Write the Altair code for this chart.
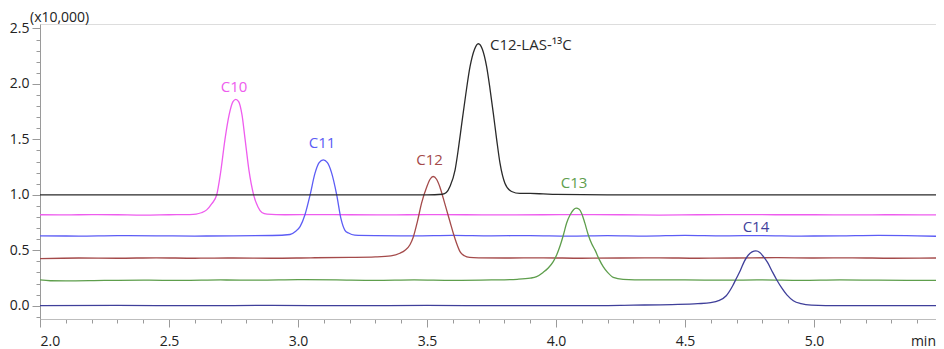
import altair as alt
import pandas as pd

# ---- data ----
series_names = ["C10", "C11", "C12", "C13", "C14", "C12-LAS-13C"]
series_colors = ["#ee5cee", "#5c5cf5", "#a44a4a", "#5e9e4c", "#3f3f9a", "#2a2a2a"]

c10_t = [2.0, 2.1, 2.2, 2.3, 2.4, 2.5, 2.58, 2.605, 2.625, 2.646, 2.666, 2.685, 2.70, 2.717, 2.733, 2.748,
         2.759, 2.77, 2.783, 2.795, 2.81, 2.828, 2.845, 2.86, 2.88, 2.95, 3.05, 3.2, 3.35, 3.5, 3.65, 3.8,
         3.95, 4.1, 4.25, 4.4, 4.55, 4.7, 4.85, 5.0, 5.15, 5.3, 5.473]
c10_v = [0.82, 0.818, 0.822, 0.82, 0.817, 0.82, 0.822, 0.826, 0.838, 0.864, 0.92, 1.0, 1.2, 1.5, 1.72, 1.84,
         1.86, 1.84, 1.72, 1.5, 1.22, 1.0, 0.89, 0.84, 0.825, 0.82, 0.822, 0.82, 0.818, 0.822, 0.82, 0.818,
         0.82, 0.822, 0.82, 0.817, 0.82, 0.822, 0.82, 0.82, 0.818, 0.82, 0.818]

c11_t = [2.0, 2.15, 2.3, 2.45, 2.6, 2.75, 2.9, 2.969, 2.99, 3.008, 3.027, 3.047, 3.066, 3.082, 3.098, 3.114,
         3.13, 3.15, 3.167, 3.182, 3.196, 3.22, 3.3, 3.45, 3.6, 3.75, 3.9, 4.05, 4.2, 4.35, 4.5, 4.65, 4.8,
         4.95, 5.1, 5.25, 5.4, 5.473]
c11_v = [0.63, 0.628, 0.632, 0.63, 0.628, 0.63, 0.633, 0.642, 0.67, 0.713, 0.82, 1.0, 1.195, 1.29, 1.315, 1.29,
         1.2, 1.0, 0.78, 0.68, 0.655, 0.636, 0.632, 0.63, 0.634, 0.63, 0.632, 0.628, 0.632, 0.628, 0.634, 0.63,
         0.632, 0.628, 0.63, 0.634, 0.63, 0.626]

c12_t = [2.0, 2.15, 2.3, 2.45, 2.6, 2.75, 2.9, 3.05, 3.2, 3.3, 3.36, 3.395, 3.415, 3.434, 3.447, 3.463, 3.479,
         3.499, 3.512, 3.524, 3.537, 3.55, 3.563, 3.576, 3.59, 3.602, 3.615, 3.628, 3.645, 3.665, 3.7, 3.8,
         3.95, 4.1, 4.25, 4.4, 4.55, 4.7, 4.85, 5.0, 5.15, 5.3, 5.473]
c12_v = [0.425, 0.43, 0.428, 0.432, 0.428, 0.43, 0.428, 0.432, 0.435, 0.44, 0.45, 0.473, 0.5, 0.55, 0.62, 0.76,
         0.925, 1.07, 1.14, 1.165, 1.14, 1.07, 0.97, 0.864, 0.75, 0.653, 0.56, 0.487, 0.45, 0.435, 0.432, 0.43,
         0.432, 0.428, 0.43, 0.432, 0.428, 0.43, 0.433, 0.43, 0.432, 0.428, 0.43]

c13_t = [2.0, 2.04, 2.1, 2.25, 2.4, 2.55, 2.7, 2.85, 3.0, 3.15, 3.3, 3.45, 3.6, 3.75, 3.85, 3.9, 3.925, 3.95,
         3.97, 3.99, 4.003, 4.016, 4.029, 4.041, 4.055, 4.068, 4.078, 4.09, 4.1, 4.112, 4.125, 4.138, 4.151,
         4.167, 4.183, 4.2, 4.222, 4.26, 4.35, 4.5, 4.65, 4.8, 4.95, 5.1, 5.25, 5.4, 5.473]
c13_v = [0.232, 0.225, 0.224, 0.228, 0.23, 0.228, 0.232, 0.23, 0.235, 0.232, 0.228, 0.232, 0.228, 0.232, 0.238,
         0.248, 0.262, 0.3, 0.34, 0.4, 0.46, 0.54, 0.64, 0.744, 0.82, 0.865, 0.879, 0.87, 0.83, 0.744, 0.64,
         0.56, 0.503, 0.42, 0.352, 0.3, 0.256, 0.238, 0.232, 0.232, 0.23, 0.232, 0.228, 0.232, 0.23, 0.228, 0.228]

c14_t = [2.0, 2.3, 2.6, 2.9, 3.2, 3.5, 3.8, 4.1, 4.3, 4.45, 4.55, 4.6, 4.63, 4.66, 4.685, 4.70, 4.715, 4.73,
         4.745, 4.76, 4.775, 4.79, 4.805, 4.82, 4.84, 4.856, 4.875, 4.895, 4.92, 4.95, 4.99, 5.1, 5.3, 5.473]
c14_v = [0.0, 0.002, 0.0, 0.003, 0.0, 0.002, 0.0, 0.0, 0.005, 0.01, 0.018, 0.028, 0.045, 0.09, 0.18, 0.25, 0.32,
         0.4, 0.455, 0.485, 0.494, 0.48, 0.44, 0.39, 0.3, 0.232, 0.16, 0.097, 0.045, 0.018, 0.005, 0.0, 0.0, 0.0]

las_t = [2.0, 3.0, 3.5, 3.56, 3.575, 3.589, 3.609, 3.622, 3.635, 3.65, 3.667, 3.684, 3.699, 3.715, 3.731,
         3.744, 3.757, 3.77, 3.783, 3.802, 3.828, 3.86, 3.9, 3.95, 4.0, 4.2, 4.6, 5.0, 5.473]
las_v = [1.0, 1.0, 1.0, 1.005, 1.02, 1.075, 1.225, 1.42, 1.646, 1.9, 2.157, 2.31, 2.362, 2.31, 2.157,
         1.96, 1.737, 1.5, 1.285, 1.105, 1.03, 1.012, 1.012, 1.008, 1.003, 1.0, 1.0, 1.0, 1.0]

# peak labels
label_text = ["C10", "C11", "C12", "C13", "C14"]
label_t = [2.752, 3.093, 3.51, 4.07, 4.775]
label_v = [1.974, 1.468, 1.315, 1.107, 0.71]
las_label = "C12-LAS-\u00b9\u00b3C"
las_label_t = 3.744
las_label_v = 2.353

x_major = [2.0, 2.5, 3.0, 3.5, 4.0, 4.5, 5.0]
x_minor = [round(2.0 + 0.1 * i, 1) for i in range(35)]
y_major = [0.0, 0.5, 1.0, 1.5, 2.0, 2.5]
y_minor = [round(-0.1 + 0.1 * i, 1) for i in range(27)]

X_DOMAIN = [2.0, 5.473]
Y_DOMAIN = [-0.12, 2.54]
W, H = 896, 295
FONT = "Open Sans"
TXT = "#222222"

# ---- build tables ----
rows = []
for name, ts, vs in [("C10", c10_t, c10_v), ("C11", c11_t, c11_v), ("C12", c12_t, c12_v),
                     ("C13", c13_t, c13_v), ("C14", c14_t, c14_v), ("C12-LAS-13C", las_t, las_v)]:
    for i, (t, v) in enumerate(zip(ts, vs)):
        rows.append({"series": name, "t": t, "v": v, "order": i})
df = pd.DataFrame(rows)
lab = pd.DataFrame({"series": label_text, "text": label_text, "t": label_t, "v": label_v})
las = pd.DataFrame({"series": ["C12-LAS-13C"], "text": [las_label], "t": [las_label_t], "v": [las_label_v]})

xs = alt.Scale(domain=X_DOMAIN, nice=False, zero=False)
ys = alt.Scale(domain=Y_DOMAIN, nice=False, zero=False)
cs = alt.Scale(domain=series_names, range=series_colors)

x_axis = alt.Axis(values=x_major, format=".1f", title=None, tickSize=8, labelPadding=7, grid=False,
                  domainColor="#bdbdbd", tickColor="#9a9a9a", labelColor=TXT, labelFontSize=14,
                  labelFont=FONT, orient="bottom")
y_axis = alt.Axis(values=y_major, format=".1f", title=None, tickSize=8, labelPadding=3, grid=False,
                  domainColor="#9a9a9a", tickColor="#9a9a9a", labelColor=TXT, labelFontSize=14,
                  labelFont=FONT, orient="left")
x_axis_minor = alt.Axis(values=x_minor, labels=False, title=None, tickSize=4, domain=False, grid=False,
                        tickColor="#9a9a9a", orient="bottom")
y_axis_minor = alt.Axis(values=y_minor, labels=False, title=None, tickSize=4, domain=False, grid=False,
                        tickColor="#9a9a9a", orient="left")

others = df[df.series != "C12-LAS-13C"]
black = df[df.series == "C12-LAS-13C"]

lines = alt.Chart(others).mark_line(strokeWidth=1.3, interpolate="monotone").encode(
    x=alt.X("t:Q", scale=xs, axis=x_axis),
    y=alt.Y("v:Q", scale=ys, axis=y_axis),
    color=alt.Color("series:N", scale=cs, legend=None),
    detail="series:N",
    order="order:Q",
)
black_line = alt.Chart(black).mark_line(strokeWidth=1.3, interpolate="monotone").encode(
    x=alt.X("t:Q", scale=xs, axis=None),
    y=alt.Y("v:Q", scale=ys, axis=None),
    color=alt.Color("series:N", scale=cs, legend=None),
    order="order:Q",
)
minor = alt.Chart(pd.DataFrame({"t": [2.0], "v": [0.0]})).mark_point(opacity=0).encode(
    x=alt.X("t:Q", scale=xs, axis=x_axis_minor),
    y=alt.Y("v:Q", scale=ys, axis=y_axis_minor),
)
labels = alt.Chart(lab).mark_text(font=FONT, fontSize=15, align="center", baseline="middle").encode(
    x=alt.X("t:Q", scale=xs, axis=None),
    y=alt.Y("v:Q", scale=ys, axis=None),
    text="text:N",
    color=alt.Color("series:N", scale=cs, legend=None),
)
las_lab = alt.Chart(las).mark_text(font=FONT, fontSize=15, align="left", baseline="middle").encode(
    x=alt.X("t:Q", scale=xs, axis=None),
    y=alt.Y("v:Q", scale=ys, axis=None),
    text="text:N",
    color=alt.Color("series:N", scale=cs, legend=None),
)
one = pd.DataFrame({"a": [0]})
unit = alt.Chart(one).mark_text(font=FONT, fontSize=14, align="left", baseline="middle", color=TXT,
                                text="(x10,000)").encode(x=alt.value(-10), y=alt.value(-6))
minlab = alt.Chart(one).mark_text(font=FONT, fontSize=14, align="right", baseline="middle", color=TXT,
                                  text="min").encode(x=alt.value(W), y=alt.value(H + 23))

chart = alt.layer(minor, lines, black_line, labels, las_lab, unit, minlab).resolve_axis(
    x="independent", y="independent"
).properties(
    width=W, height=H, autosize="none",
    padding={"left": 32, "top": 16, "right": 0, "bottom": 30},
).configure_view(stroke="#d4d4d4").configure(background="white")

chart.save("out.html", embed_options={"renderer": "svg", "actions": False})
